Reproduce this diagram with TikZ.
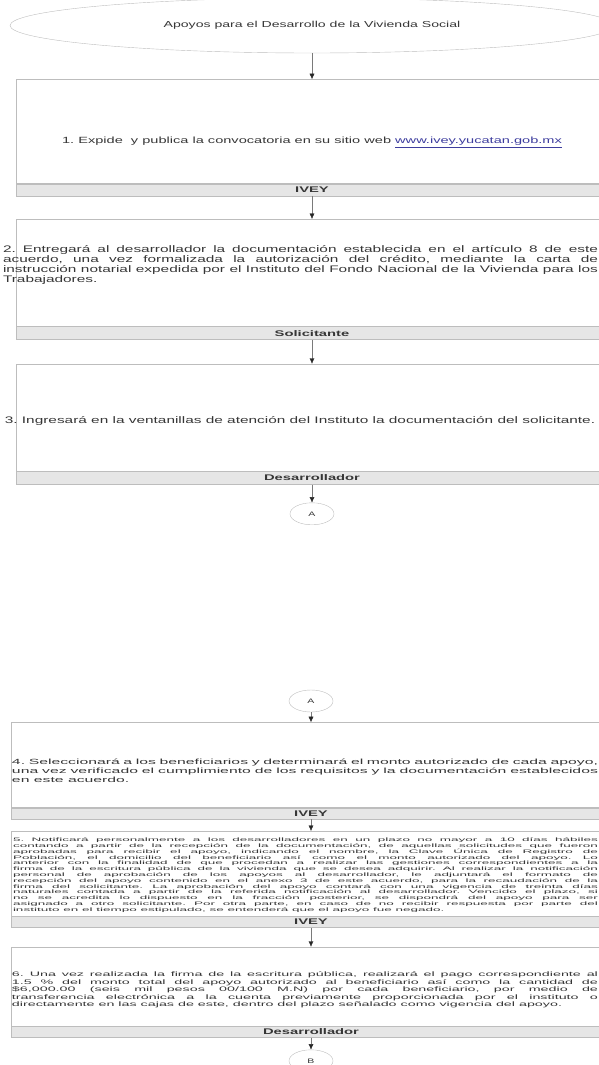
\documentclass[tikz,border=0pt]{standalone}
\usepackage{fontspec}
\setmainfont{Liberation Sans}
\newfontfamily\wideA[FakeStretch=1.62]{Liberation Sans}
\newfontfamily\wideB[FakeStretch=2.1]{Liberation Sans}
\newfontfamily\wideC[FakeStretch=2.7]{Liberation Sans}
\newfontfamily\wideD[FakeStretch=2.2]{Liberation Sans}
\newfontfamily\wideL[FakeStretch=1.8]{Liberation Sans}
\usepackage{tikz}
\usetikzlibrary{shapes.geometric,arrows,arrows.meta,positioning}
\definecolor{boxgray}{HTML}{BDBDBD}
\definecolor{bandgray}{HTML}{E6E6E6}
\definecolor{textgray}{HTML}{363636}
\definecolor{linkblue}{HTML}{3D3D9E}
\definecolor{flowgray}{HTML}{7A7A7A}

\begin{document}
\frenchspacing
\begin{tikzpicture}[
            x=1pt,y=-1pt,
            every node/.style={text=textgray},
            startend/.style={ellipse,draw=boxgray,minimum width=604pt,minimum height=55pt,inner sep=0pt,
                font=\wideA\fontsize{8.7}{10}\selectfont},
            stepbox/.style={draw=boxgray,minimum width=592pt,inner sep=0pt},
            lane/.style={draw=boxgray,fill=bandgray,minimum width=592pt,minimum height=12pt,inner sep=0pt,
                font=\wideL\fontsize{8.2}{9}\selectfont\bfseries},
            steptext/.style={text width=595pt,align=justify,inner sep=0pt},
            jump/.style={ellipse,draw=boxgray,minimum width=44pt,minimum height=22pt,inner sep=0pt,
                font=\wideA\fontsize{6.5}{7}\selectfont},
            flow/.style={->,draw=flowgray},
            >={Latex[length=5.5pt,width=5pt,color=black!85]}
        ]
        \useasboundingbox (0,0) rectangle (599,1065);

        % Draw first page %
        \node[startend] (start) at (312,25.5) {Apoyos para el Desarrollo de la Vivienda Social};
        \node[stepbox,minimum height=104pt,below=26pt of start] (box1) {};
        \node[lane,below=0pt of box1] (lane1) {IVEY};
        \node[stepbox,minimum height=107pt,below=23pt of lane1] (box2) {};
        \node[lane,minimum height=13pt,below=0pt of box2] (lane2) {Solicitante};
        \node[stepbox,minimum height=107pt,below=24pt of lane2] (box3) {};
        \node[lane,minimum height=13pt,below=0pt of box3] (lane3) {Desarrollador};
        \node[jump,below=18pt of lane3] (a1) {A};

        % Texts of first page %
        \node[font=\wideA\fontsize{9}{10}\selectfont] (t1) at ([yshift=-11pt]box1.center)
            {1. Expide~ y publica la convocatoria en su sitio web \textcolor{linkblue}{\underline{www.ivey.yucatan.gob.mx}}};
        \node[steptext,font=\wideA\fontsize{9.5}{10}\selectfont] (t2) at ([xshift=-11.5pt,yshift=8pt]box2.center)
            {2. Entregará al desarrollador la documentación establecida en el artículo 8 de este\linebreak
            acuerdo, una vez formalizada la autorización del crédito, mediante la carta de\linebreak
            instrucción notarial expedida por el Instituto del Fondo Nacional de la Vivienda para los\linebreak
            Trabajadores.};
        \node[font=\wideA\fontsize{9.5}{10}\selectfont] (t3) at ([xshift=-12pt,yshift=-3.5pt]box3.center)
            {3. Ingresará en la ventanillas de atención del Instituto la documentación del solicitante.};

        % Draw second page %
        \node[jump] (a2) at (311,701) {A};
        \node[stepbox,minimum width=600pt,minimum height=85pt,below=10pt of a2] (box4) {};
        \node[lane,minimum width=600pt,minimum height=11pt,below=0pt of box4] (lane4) {IVEY};
        \node[stepbox,minimum width=600pt,minimum height=85pt,below=12pt of lane4] (box5) {};
        \node[lane,minimum width=600pt,minimum height=11pt,below=0pt of box5] (lane5) {IVEY};
        \node[stepbox,minimum width=600pt,minimum height=79pt,below=19pt of lane5] (box6) {};
        \node[lane,minimum width=600pt,minimum height=11pt,below=0pt of box6] (lane6) {Desarrollador};
        \node[jump,below=12pt of lane6] (b) {B};

        % Texts of second page %
        \node[steptext,text width=586pt,font=\wideB\fontsize{7.5}{9}\selectfont] (t4) at ([xshift=-6pt,yshift=-5.5pt]box4.center)
            {4. Seleccionará a los beneficiarios y determinará el monto autorizado de cada apoyo,\linebreak
            una vez verificado el cumplimiento de los requisitos y la documentación establecidos\linebreak
            en este acuerdo.};
        \node[steptext,text width=585pt,font=\wideC\fontsize{5}{5.8}\selectfont] (t5) at ([xshift=-5.5pt,yshift=-1.5pt]box5.center)
            {5. Notificará personalmente a los desarrolladores en un plazo no mayor a 10 días hábiles\linebreak
            contando a partir de la recepción de la documentación, de aquellas solicitudes que fueron\linebreak
            aprobadas para recibir el apoyo, indicando el nombre, la Clave Única de Registro de\linebreak
            Población, el domicilio del beneficiario así como el monto autorizado del apoyo. Lo\linebreak
            anterior con la finalidad de que procedan a realizar las gestiones correspondientes a la\linebreak
            firma de la escritura pública de la vivienda que se desea adquirir. Al realizar la notificación\linebreak
            personal de aprobación de los apoyos al desarrollador, le adjuntará el formato de\linebreak
            recepción del apoyo contenido en el anexo 3 de este acuerdo, para la recaudación de la\linebreak
            firma del solicitante. La aprobación del apoyo contará con una vigencia de treinta días\linebreak
            naturales contada a partir de la referida notificación al desarrollador. Vencido el plazo, si\linebreak
            no se acredita lo dispuesto en la fracción posterior, se dispondrá del apoyo para ser\linebreak
            asignado a otro solicitante. Por otra parte, en caso de no recibir respuesta por parte del\linebreak
            instituto en el tiempo estipulado, se entenderá que el apoyo fue negado.};
        \node[steptext,text width=586pt,font=\wideD\fontsize{6.5}{7.5}\selectfont] (t6) at ([xshift=-6pt,yshift=-3.5pt]box6.center)
            {6. Una vez realizada la firma de la escritura pública, realizará el pago correspondiente al\linebreak
            1.5 \% del monto total del apoyo autorizado al beneficiario así como la cantidad de\linebreak
            \$6,000.00 (seis mil pesos 00/100 M.N) por cada beneficiario, por medio de\linebreak
            transferencia electrónica a la cuenta previamente proporcionada por el instituto o\linebreak
            directamente en las cajas de este, dentro del plazo señalado como vigencia del apoyo.};

        % Draw arrows %
        \draw[flow] (start) -- (box1);
        \draw[flow] (lane1) -- (box2);
        \draw[flow] (lane2) -- (box3);
        \draw[flow] (lane3) -- (a1);
        \draw[flow] (a2) -- (box4);
        \draw[flow] (lane4) -- (box5);
        \draw[flow] (lane5) -- (box6);
        \draw[flow] (lane6) -- (b);
        \end{tikzpicture}
\end{document}
